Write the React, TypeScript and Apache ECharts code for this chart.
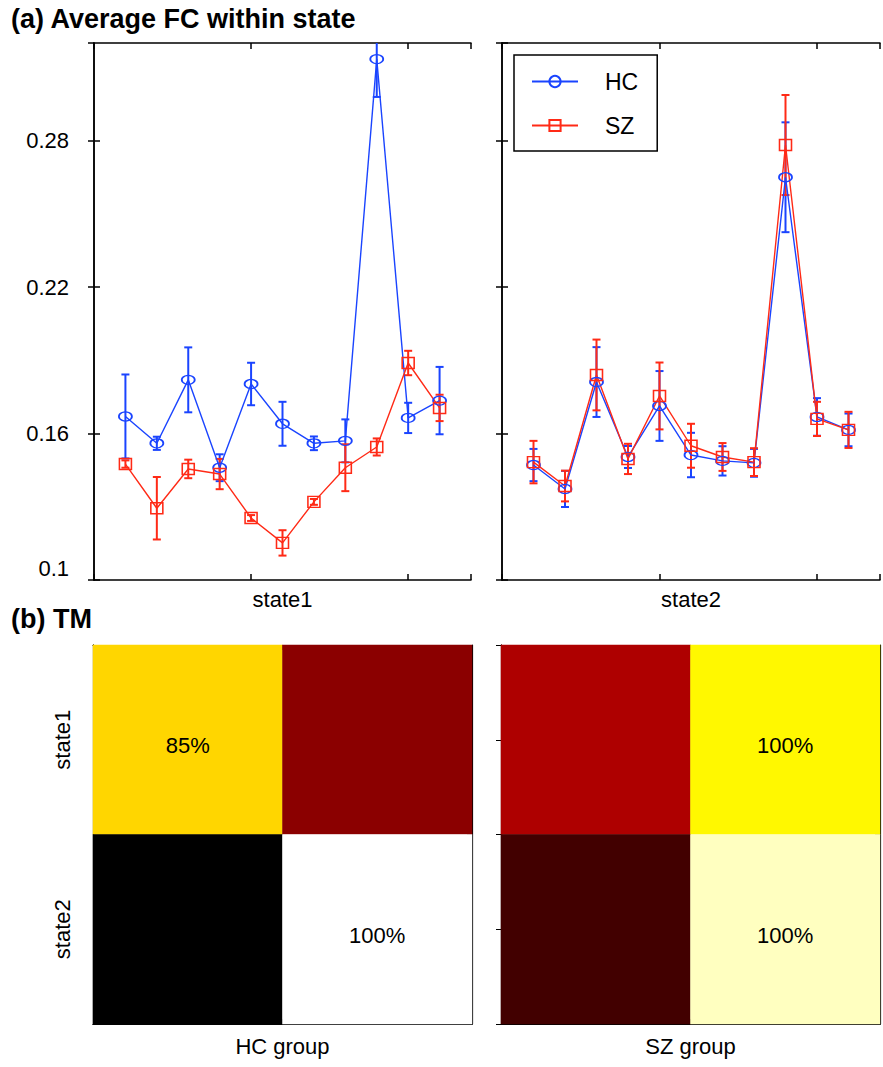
import React, { useEffect, useRef } from 'react';
import * as echarts from 'echarts';

// ---------- data ----------
const positions = [1, 2, 3, 4, 5, 6, 7, 8, 9, 10, 11];

const hcState1Mean = [0.167, 0.156, 0.182, 0.146, 0.1803, 0.164, 0.156, 0.157, 0.3134, 0.1664, 0.1735];
const hcState1Err = [0.0172, 0.0027, 0.0133, 0.0055, 0.0087, 0.009, 0.0028, 0.0088, 0.0155, 0.0062, 0.0138];
const szState1Mean = [0.1475, 0.1294, 0.1455, 0.1434, 0.1254, 0.1152, 0.132, 0.146, 0.1545, 0.1889, 0.1705];
const szState1Err = [0.0015, 0.0128, 0.0038, 0.0062, 0.0012, 0.0052, 0.0012, 0.0096, 0.0035, 0.005, 0.0054];

const hcState2Mean = [0.1471, 0.1373, 0.1811, 0.1504, 0.1713, 0.1512, 0.1488, 0.148, 0.265, 0.1668, 0.1615];
const hcState2Err = [0.0066, 0.0074, 0.0143, 0.0045, 0.0143, 0.0091, 0.006, 0.0057, 0.0225, 0.0077, 0.0067];
const szState2Mean = [0.1483, 0.1385, 0.184, 0.1496, 0.1754, 0.155, 0.1504, 0.1483, 0.2782, 0.166, 0.1615];
const szState2Err = [0.0087, 0.0063, 0.0145, 0.0062, 0.0137, 0.009, 0.0057, 0.0057, 0.0205, 0.007, 0.0074];

const yMin = 0.1;
const yMax = 0.32;
const yStep = 0.06;
const xMin = 0;
const xMax = 12;
const xStep = 5;

const stateNames = ['state1', 'state2'];
const tmColumns = ['col1', 'col2'];
// colour level of each transition-matrix cell (row = from state)
const hcTmLevels = [
  [0.69, 0.204],
  [0.0, 1.0],
];
const szTmLevels = [
  [0.256, 0.739],
  [0.097, 0.938],
];
const hcTmLabels = [
  ['85%', ''],
  ['', '100%'],
];
const szTmLabels = [
  ['', '100%'],
  ['', '100%'],
];
const hotColormap = ['#000000', '#550000', '#aa0000', '#ff0000', '#ff5500', '#ffaa00', '#ffff00', '#ffff80', '#ffffff'];

// ---------- styling ----------
const FONT = '"Liberation Sans", Arial, Helvetica, sans-serif';
const BLUE = '#1a44ff';
const RED = '#ff2a16';

const fmtY = (v: number) => {
  const s = String(+v.toFixed(2));
  return Math.abs(v - 0.1) < 1e-9 ? `{lo|${s}}` : s;
};

function errorSeries(name: string, color: string, means: number[], errs: number[], gi: number) {
  return {
    type: 'custom',
    name: name + ' err',
    xAxisIndex: gi * 2,
    yAxisIndex: gi * 2,
    clip: true,
    silent: true,
    encode: { x: 0, y: [1, 2] },
    data: positions.map((p, i) => [p, means[i] - errs[i], means[i] + errs[i]]),
    renderItem: (params: any, api: any) => {
      const x = api.value(0);
      const lo = api.value(1);
      const hi = api.value(2);
      const a = api.coord([x, hi]);
      const b = api.coord([x, lo]);
      const cap = 4;
      const style = { stroke: color, lineWidth: 2 };
      return {
        type: 'group',
        children: [
          { type: 'line', shape: { x1: a[0], y1: a[1], x2: b[0], y2: b[1] }, style },
          { type: 'line', shape: { x1: a[0] - cap, y1: a[1], x2: a[0] + cap, y2: a[1] }, style },
          { type: 'line', shape: { x1: b[0] - cap, y1: b[1], x2: b[0] + cap, y2: b[1] }, style },
        ],
      };
    },
  };
}

function lineSeries(name: string, color: string, means: number[], gi: number, symbol: string, size: number[]) {
  return {
    type: 'line',
    name,
    xAxisIndex: gi * 2,
    yAxisIndex: gi * 2,
    data: positions.map((p, i) => [p, means[i]]),
    symbol,
    symbolSize: size,
    showAllSymbol: true,
    silent: true,
    lineStyle: { color, width: 1.4 },
    itemStyle: { color: 'rgba(255,255,255,0)', borderColor: color, borderWidth: 1.5 },
  };
}

function heatData(levels: number[][], labels: string[][]) {
  const out: any[] = [];
  levels.forEach((row, r) =>
    row.forEach((v, c) => {
      out.push({ value: [c, r, v], label: { show: labels[r][c] !== '', formatter: labels[r][c] } });
    })
  );
  return out;
}

export default function App() {
  const ref = useRef<HTMLDivElement>(null);

  useEffect(() => {
    if (!ref.current) return;
    const chart = echarts.init(ref.current, undefined, { renderer: 'svg' });

    const axisLine = { show: true, lineStyle: { color: '#000', width: 1.5 } };
    const tickIn = { show: true, inside: true, length: 6, lineStyle: { color: '#000', width: 1.5 } };

    const grids = [
      { left: 94, top: 43, width: 377, height: 537 },
      { left: 502, top: 43, width: 378, height: 537 },
      { left: 93, top: 645, width: 379, height: 379 },
      { left: 501, top: 645, width: 379, height: 379 },
    ].map((g) => ({ ...g, outerBoundsMode: 'none', containLabel: false }));

    const valX = (gridIndex: number, position: string, name?: string) => ({
      type: 'value',
      gridIndex,
      position,
      min: xMin,
      max: xMax,
      interval: xStep,
      axisLine,
      axisTick: tickIn,
      axisLabel: { show: false },
      splitLine: { show: false },
      name: name || '',
      nameLocation: 'middle',
      nameGap: 8,
      nameTextStyle: { fontFamily: FONT, fontSize: 22, color: '#000', verticalAlign: 'top' },
    });
    const valY = (gridIndex: number, position: string, labels: boolean) => ({
      type: 'value',
      gridIndex,
      position,
      min: yMin,
      max: yMax,
      interval: yStep,
      axisLine,
      axisTick: tickIn,
      splitLine: { show: false },
      axisLabel: {
        show: labels,
        showMaxLabel: false,
        showMinLabel: true,
        margin: 25,
        fontFamily: FONT,
        fontSize: 22,
        color: '#000',
        formatter: fmtY,
        rich: { lo: { fontFamily: FONT, fontSize: 22, color: '#000', padding: [0, 0, 24, 0] } },
      },
    });

    const catX = (gridIndex: number, name: string) => ({
      type: 'category',
      gridIndex,
      data: tmColumns,
      position: 'bottom',
      axisLine: { show: true, lineStyle: { color: '#000', width: 1 } },
      axisTick: { show: false },
      axisLabel: { show: false },
      name,
      nameLocation: 'middle',
      nameGap: 11,
      nameTextStyle: { fontFamily: FONT, fontSize: 22, color: '#000', verticalAlign: 'top' },
    });
    const tickX = (gridIndex: number, position: string) => ({
      type: 'value',
      gridIndex,
      position,
      min: 0.5,
      max: 2.5,
      interval: 0.5,
      axisLine: { show: true, lineStyle: { color: '#000', width: 1.2 } },
      axisTick: { show: true, inside: true, length: 5, lineStyle: { color: '#000', width: 1 } },
      axisLabel: { show: false },
      splitLine: { show: false },
    });
    const catY = (gridIndex: number, labels: boolean) => ({
      type: 'category',
      gridIndex,
      data: stateNames,
      inverse: true,
      position: 'left',
      axisLine: { show: true, lineStyle: { color: '#000', width: 1 } },
      axisTick: { show: false },
      axisLabel: {
        show: labels,
        rotate: 90,
        margin: 20,
        fontFamily: FONT,
        fontSize: 22,
        color: '#000',
      },
    });
    const tickY = (gridIndex: number, position: string, showTicks: boolean) => ({
      type: 'value',
      gridIndex,
      position,
      min: 0.5,
      max: 2.5,
      interval: 0.5,
      axisLine: { show: true, lineStyle: { color: '#000', width: 1.2 } },
      axisTick: { show: showTicks, inside: position === 'right', length: 5, lineStyle: { color: '#000', width: 1 } },
      axisLabel: { show: false },
      splitLine: { show: false },
    });

    const xAxis = [
      valX(0, 'bottom', 'state1'),
      valX(0, 'top'),
      valX(1, 'bottom', 'state2'),
      valX(1, 'top'),
      catX(2, 'HC group'),
      tickX(2, 'bottom'),
      catX(3, 'SZ group'),
      tickX(3, 'bottom'),
      tickX(2, 'top'),
      tickX(3, 'top'),
    ];
    const yAxis = [
      valY(0, 'left', true),
      valY(0, 'right', false),
      valY(1, 'left', false),
      valY(1, 'right', false),
      catY(2, true),
      tickY(2, 'left', false),
      catY(3, false),
      tickY(3, 'left', true),
      tickY(2, 'right', true),
      tickY(3, 'right', true),
    ];

    const heatLabel = {
      show: true,
      fontFamily: FONT,
      fontSize: 22,
      color: '#000',
      offset: [0, 6],
    };

    const series: any[] = [
      errorSeries('HC', BLUE, hcState1Mean, hcState1Err, 0),
      lineSeries('HC', BLUE, hcState1Mean, 0, 'circle', [13, 9]),
      errorSeries('SZ', RED, szState1Mean, szState1Err, 0),
      lineSeries('SZ', RED, szState1Mean, 0, 'rect', [12, 11]),
      errorSeries('HC', BLUE, hcState2Mean, hcState2Err, 1),
      lineSeries('HC', BLUE, hcState2Mean, 1, 'circle', [13, 9]),
      errorSeries('SZ', RED, szState2Mean, szState2Err, 1),
      lineSeries('SZ', RED, szState2Mean, 1, 'rect', [12, 11]),
      {
        type: 'heatmap',
        name: 'HC TM',
        xAxisIndex: 4,
        yAxisIndex: 4,
        data: heatData(hcTmLevels, hcTmLabels),
        label: heatLabel,
        silent: true,
        emphasis: { disabled: true },
      },
      {
        type: 'heatmap',
        name: 'SZ TM',
        xAxisIndex: 6,
        yAxisIndex: 6,
        data: heatData(szTmLevels, szTmLabels),
        label: heatLabel,
        silent: true,
        emphasis: { disabled: true },
      },
    ];

    chart.setOption({
      animation: false,
      backgroundColor: '#fff',
      textStyle: { fontFamily: FONT },
      grid: grids,
      xAxis,
      yAxis,
      visualMap: {
        type: 'continuous',
        show: false,
        min: 0,
        max: 1,
        seriesIndex: [8, 9],
        inRange: { color: hotColormap },
      },
      legend: {
        data: ['HC', 'SZ'],
        orient: 'vertical',
        left: 514,
        top: 55,
        padding: [15, 19, 14, 17],
        itemWidth: 46,
        itemHeight: 14,
        itemGap: 21,
        borderColor: '#000',
        borderWidth: 1.5,
        borderRadius: 0,
        backgroundColor: '#fff',
        selectedMode: false,
        formatter: (n: string) => `{t|${n}}`,
        textStyle: {
          fontFamily: FONT,
          fontSize: 23,
          color: '#000',
          rich: { t: { fontFamily: FONT, fontSize: 23, color: '#000', padding: [0, 0, 0, 22] } },
        },
      },
      graphic: [
        {
          type: 'text',
          left: 11,
          top: 5,
          style: { text: '(a) Average FC within state', font: `bold 27px ${FONT}`, fill: '#000' },
        },
        {
          type: 'text',
          left: 11,
          top: 605,
          style: { text: '(b) TM', font: `bold 27px ${FONT}`, fill: '#000' },
        },
      ],
      series,
    });

    return () => chart.dispose();
  }, []);

  return (
    <div
      ref={ref}
      style={{ position: 'absolute', left: 0, top: 0, width: 883, height: 1067, background: '#fff' }}
    />
  );
}
